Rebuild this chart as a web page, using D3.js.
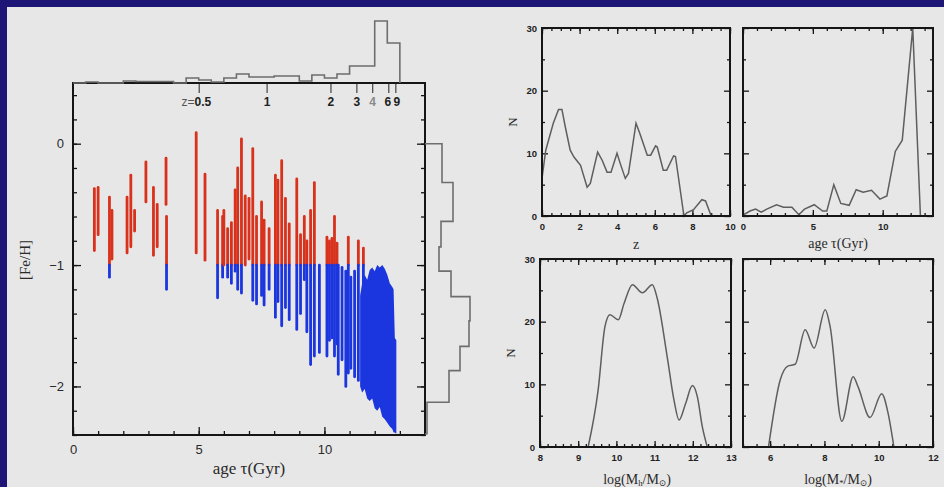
<!DOCTYPE html>
<html><head><meta charset="utf-8">
<script src="https://cdn.jsdelivr.net/npm/d3@7"></script>
<style>
html,body{margin:0;padding:0;background:#1d1676;}
svg{display:block;}
.tl{font-family:"Liberation Sans",Arial,sans-serif;}
.serif{font-family:"Liberation Serif","DejaVu Serif",serif;}
</style></head><body>
<svg id="chart" width="944" height="487"></svg>
<script>
// ---- [Fe/H] vs age: vertical streaks (one per galaxy), top and bottom of each streak ----
const streakAge    = [0.85, 1.0, 1.45, 1.55, 2.15, 2.3, 2.45, 2.9, 3.2, 3.35, 3.7, 3.72, 4.9, 5.25, 5.75, 5.95, 6.0, 6.15, 6.3, 6.45, 6.55, 6.7, 6.85, 7.0, 7.15, 7.3, 7.5, 7.6, 7.8, 8.05, 8.15, 8.3, 8.45, 8.6, 8.9, 9.05, 9.2, 9.3, 9.45, 9.6, 9.8, 10.1, 10.2, 10.3, 10.4, 10.5, 10.55, 10.7, 10.85, 10.95, 11.05, 11.2, 11.35, 11.55];
const streakTop    = [-0.37, -0.36, -0.44, -0.55, -0.44, -0.26, -0.55, -0.15, -0.36, -0.5, -0.12, -0.6, 0.09, -0.25, -0.55, -0.6, -0.55, -0.7, -0.65, -0.38, -0.2, 0.04, -0.43, -0.45, -0.04, -0.6, -0.48, -0.63, -0.7, -0.26, -0.3, -0.14, -0.45, -0.66, -0.29, -0.75, -0.6, -0.8, -0.55, -0.32, -1.0, -0.77, -0.8, -0.78, -0.6, -0.82, -1.0, -1.02, -1.05, -0.77, -1.1, -1.05, -0.8, -0.86];
const streakBottom = [-0.88, -0.75, -1.1, -0.95, -0.9, -0.85, -0.72, -0.48, -0.92, -0.85, -0.5, -1.2, -0.9, -0.96, -1.27, -1.1, -1.0, -1.1, -1.15, -1.05, -1.2, -1.23, -1.0, -0.95, -1.29, -1.32, -1.25, -1.33, -1.2, -1.43, -1.3, -1.5, -1.35, -1.45, -1.53, -1.4, -1.12, -1.55, -1.82, -1.75, -1.72, -1.75, -1.62, -1.6, -1.75, -1.65, -1.9, -1.78, -2.0, -1.89, -1.85, -1.92, -1.95, -1.3];
const fehSplit = -1;

// dense population of the oldest stars
const clusterAge    = [11.42, 11.5, 11.6, 11.7, 11.8, 11.9, 12.0, 12.1, 12.2, 12.3, 12.4, 12.5, 12.6, 12.7, 12.75, 12.8, 12.86];
const clusterTop    = [-1.25, -1.15, -1.08, -1.12, -1.04, -1.02, -1.05, -1.0, -1.02, -1.0, -1.03, -1.08, -1.15, -1.18, -1.2, -1.6, -1.62];
const clusterBottom = [-2.0, -2.05, -2.02, -2.1, -2.12, -2.1, -2.18, -2.2, -2.17, -2.25, -2.27, -2.3, -2.33, -2.35, -2.38, -2.38, -2.39];

// redshift axis along the top (age at each redshift)
const zTickAge   = [5.0, 7.7, 10.24, 11.27, 11.9, 12.54, 12.82];
const zTickLabel = ["z=0.5", "1", "2", "3", "4", "6", "9"];

// marginal histogram of ages (bins of 0.5 Gyr)
const ageHistEdges  = [0,0.5,1,1.5,2,2.5,3,3.5,4,4.5,5,5.5,6,6.5,7,7.5,8,8.5,9,9.5,10,10.5,11,11.5,12,12.5,13];
const ageHistCounts = [0,1,0,0,2,1.5,1.5,1.5,0,5,3,1,5,9,6,6,7,7,2,8,5,9,17,17,62,40];

// marginal histogram of [Fe/H]
const fehHistEdges  = [0, -0.32, -0.64, -0.85, -1.05, -1.26, -1.46, -1.67, -1.87, -2.13, -2.39];
const fehHistCounts = [17, 28, 16, 14, 26, 45, 44, 35, 24, 2];

// distribution panels
const zVals   = [0,0.2,0.6,0.88,1.06,1.24,1.5,1.7,2.05,2.4,2.57,2.96,3.2,3.46,3.67,3.99,4.16,4.43,4.6,5.0,5.2,5.6,5.78,6.04,6.13,6.45,6.63,7.0,7.1,7.55,7.7,8.06,8.5,8.7,9.0];
const zN      = [6,10.5,14.8,17,17,14.2,10.5,9.4,8.1,4.6,5.2,10.2,8.9,7,7,10,8.4,6,6.8,14.8,13.2,9.7,9.7,11.2,11,7.3,7.3,9.6,9.5,0,0.5,1,2.6,2.4,0];
const ageVals = [0.05,0.5,0.9,1.3,1.7,2.4,2.9,3.5,4.0,4.4,5.1,5.7,6.0,6.5,7.0,7.6,8.1,8.6,9.2,9.8,10.3,10.9,11.4,12.15,12.7];
const ageN    = [0.2,0.8,1.1,0.6,1.1,1.8,1.4,1.4,0.2,1.1,1.8,0.8,0.8,5.0,2.0,1.7,4.2,3.8,4.1,2.7,3.2,10.3,12.1,30,0];
const mhVals  = [9.26,9.52,9.7,9.83,10.05,10.2,10.42,10.68,10.94,11.07,11.33,11.51,11.64,11.81,11.99,12.12,12.25,12.38];
const mhN     = [0,9,19.2,21.1,20.3,22.9,25.9,24.6,25.9,23.7,14.4,7.4,4.3,6.9,9.8,8,3.2,0];
const msVals  = [5.94,6.37,6.65,6.92,7.29,7.62,8.03,8.21,8.64,9.06,9.24,9.68,10.11,10.35,10.56];
const msN     = [0,10.7,12.9,13.2,18.7,15.8,21.9,19.2,4.1,11.2,9.6,4.7,8.5,5.3,0];

const RED = "#d8311c", BLUE = "#1c36df", INK = "#151515", HIST = "#6e6e6e";

const svg = d3.select("#chart");
svg.append("rect").attr("width", 944).attr("height", 487).attr("fill", "#1d1676");
svg.append("rect").attr("x", 7).attr("y", 7).attr("width", 937).attr("height", 480).attr("fill", "#e7e7e7");

// ---------------- main scatter ----------------
const x = d3.scaleLinear().domain([0, 14]).range([73, 425]);
const y = d3.scaleLinear().domain([-2.4, 0.5]).range([435, 83]);

const segs = [];
streakAge.forEach((a, i) => {
  const t = streakTop[i], b = streakBottom[i];
  if (t > fehSplit) segs.push({a, t, b: Math.max(b, fehSplit), c: RED});
  if (b < fehSplit) segs.push({a, t: Math.min(t, fehSplit), b, c: BLUE});
});
const scat = svg.append("g");
scat.selectAll("line.streak").data(segs).join("line")
  .attr("class", "streak")
  .attr("x1", d => x(d.a)).attr("x2", d => x(d.a))
  .attr("y1", d => y(d.t)).attr("y2", d => y(d.b))
  .attr("stroke", d => d.c).attr("stroke-width", 2.8)
  .attr("stroke-linecap", "round");

const cluster = clusterAge.map((a, i) => ({a, t: clusterTop[i], b: clusterBottom[i]}));
scat.append("path").datum(cluster)
  .attr("d", d3.area().x(d => x(d.a)).y0(d => y(d.b)).y1(d => y(d.t)))
  .attr("fill", BLUE);

// frame + ticks
function ticks(g, axis) {
  g.call(axis);
  g.select(".domain").remove();
  g.selectAll(".tick line").attr("stroke", INK).attr("stroke-width", 1.3);
}
const fine = v => Math.round(v * 1000) / 1000;
const yMinor = d3.range(-12, 3).map(k => fine(k * 0.2));
const xMinor = d3.range(0, 15);

ticks(svg.append("g").attr("transform", "translate(0,435)"),
  d3.axisBottom(x).tickValues(xMinor).tickSize(-4).tickFormat(""));
const xb = svg.append("g").attr("transform", "translate(0,435)").attr("class", "tl");
ticks(xb, d3.axisBottom(x).tickValues([0, 5, 10]).tickSize(-8).tickPadding(10).tickFormat(d3.format("d")));
xb.selectAll("text").attr("font-size", 13).attr("fill", "#2a2a2a");

ticks(svg.append("g").attr("transform", "translate(73,0)"),
  d3.axisLeft(y).tickValues(yMinor).tickSize(-4).tickFormat(""));
const yl = svg.append("g").attr("transform", "translate(73,0)").attr("class", "tl");
ticks(yl, d3.axisLeft(y).tickValues([0, -1, -2]).tickSize(-8).tickPadding(9).tickFormat(d3.format("d")));
yl.selectAll("text").attr("font-size", 13).attr("fill", "#2a2a2a");

ticks(svg.append("g").attr("transform", "translate(425,0)"),
  d3.axisRight(y).tickValues(yMinor).tickSize(-4).tickFormat(""));
ticks(svg.append("g").attr("transform", "translate(425,0)"),
  d3.axisRight(y).tickValues([0, -1, -2]).tickSize(-8).tickFormat(""));

const zt = svg.append("g").attr("transform", "translate(0,83)").attr("class", "tl");
ticks(zt, d3.axisBottom(x).tickValues(zTickAge).tickSize(10).tickPadding(4)
  .tickFormat((d, i) => zTickLabel[i]));
zt.selectAll(".tick line").attr("stroke", "#444").attr("stroke-width", 1.2);
zt.selectAll("text").attr("font-size", 12).attr("font-weight", "bold").attr("fill", "#222")
  .each(function(d, i) {
    const t = d3.select(this);
    if (i === 0) { t.attr("text-anchor", "end").attr("x", 12); t.text(null);
      t.append("tspan").attr("font-weight", "normal").attr("fill", "#555").text("z=");
      t.append("tspan").text("0.5"); }
    if (i === 4) t.attr("fill", "#8a8a8a");
    if (i === 5) t.attr("x", -1);
    if (i === 6) t.attr("x", 1);
  });

svg.append("rect").attr("x", x(0)).attr("y", y(0.5))
  .attr("width", x(14) - x(0)).attr("height", y(-2.4) - y(0.5))
  .attr("fill", "none").attr("stroke", INK).attr("stroke-width", 2);

// marginal histograms
const hy = d3.scaleLinear().domain([0, 62]).range([83, 21]);
const topPts = [[ageHistEdges[0], 0]];
ageHistCounts.forEach((c, i) => { topPts.push([ageHistEdges[i], c], [ageHistEdges[i + 1], c]); });
topPts.push([ageHistEdges[ageHistEdges.length - 1], 0]);
svg.append("path").datum(topPts)
  .attr("d", d3.line().x(d => x(d[0])).y(d => hy(d[1])))
  .attr("fill", "none").attr("stroke", HIST).attr("stroke-width", 1.6);

const hx = d3.scaleLinear().domain([0, 45]).range([425, 470]);
const sidePts = [[0, fehHistEdges[0]]];
fehHistCounts.forEach((c, i) => { sidePts.push([c, fehHistEdges[i]], [c, fehHistEdges[i + 1]]); });
sidePts.push([0, fehHistEdges[fehHistEdges.length - 1]]);
svg.append("path").datum(sidePts)
  .attr("d", d3.line().x(d => hx(d[0])).y(d => y(d[1])))
  .attr("fill", "none").attr("stroke", HIST).attr("stroke-width", 1.6);

// axis titles
svg.append("text").attr("class", "serif").attr("x", 249).attr("y", 474)
  .attr("text-anchor", "middle").attr("font-size", 17).attr("fill", "#2a2a2a")
  .text("age τ(Gyr)");
svg.append("text").attr("class", "serif")
  .attr("transform", "translate(30,260) rotate(-90)")
  .attr("text-anchor", "middle").attr("font-size", 15).attr("fill", "#2a2a2a")
  .text("[Fe/H]");

// ---------------- distribution panels ----------------
function panel(o) {
  const px = d3.scaleLinear().domain(o.xd).range([o.x0, o.x1]);
  const py = d3.scaleLinear().domain([0, 30]).range([o.y1, o.y0]);
  const g = svg.append("g");
  const yMaj = [0, 10, 20, 30], yMin = [5, 15, 25];
  const mk = (tr, axis) => ticks(g.append("g").attr("transform", tr), axis);
  mk(`translate(0,${o.y1})`, d3.axisBottom(px).tickValues(o.minor).tickSize(-3).tickFormat(""));
  mk(`translate(0,${o.y0})`, d3.axisTop(px).tickValues(o.minor).tickSize(-3).tickFormat(""));
  mk(`translate(0,${o.y0})`, d3.axisTop(px).tickValues(o.major).tickSize(-6).tickFormat(""));
  mk(`translate(${o.x0},0)`, d3.axisLeft(py).tickValues(yMin).tickSize(-3).tickFormat(""));
  mk(`translate(${o.x1},0)`, d3.axisRight(py).tickValues(yMin).tickSize(-3).tickFormat(""));
  mk(`translate(${o.x1},0)`, d3.axisRight(py).tickValues(yMaj).tickSize(-6).tickFormat(""));
  const xa = g.append("g").attr("transform", `translate(0,${o.y1})`).attr("class", "tl");
  ticks(xa, d3.axisBottom(px).tickValues(o.major).tickSize(-6).tickPadding(7).tickFormat(d3.format("d")));
  xa.selectAll("text").attr("font-size", 9.5).attr("font-weight", "bold").attr("fill", "#222");
  const ya = g.append("g").attr("transform", `translate(${o.x0},0)`).attr("class", "tl");
  ticks(ya, d3.axisLeft(py).tickValues(yMaj).tickSize(-6).tickPadding(5)
    .tickFormat(o.ylabels ? d3.format("d") : ""));
  ya.selectAll("text").attr("font-size", 9.5).attr("font-weight", "bold").attr("fill", "#222");
  const pts = o.xs.map((v, i) => [v, o.ns[i]]);
  g.append("path").datum(pts)
    .attr("d", d3.line().x(d => px(d[0])).y(d => py(d[1])).curve(o.curve))
    .attr("fill", "none").attr("stroke", "#5e5e5e").attr("stroke-width", 1.5);
  g.append("rect").attr("x", o.x0).attr("y", o.y0).attr("width", o.x1 - o.x0).attr("height", o.y1 - o.y0)
    .attr("fill", "none").attr("stroke", INK).attr("stroke-width", 2);
  if (o.ylabels) {
    g.append("text").attr("class", "serif")
      .attr("transform", `translate(${o.x0 - 25},${(o.y0 + o.y1) / 2}) rotate(-90)`)
      .attr("text-anchor", "middle").attr("font-size", 13).attr("fill", "#2a2a2a").text("N");
  }
  return g;
}

panel({x0: 542, x1: 730, y0: 28, y1: 216, xd: [0, 10], major: [0, 2, 4, 6, 8, 10],
  minor: d3.range(0, 21).map(k => k * 0.5), xs: zVals, ns: zN, ylabels: true, curve: d3.curveLinear});
panel({x0: 743, x1: 933, y0: 28, y1: 216, xd: [0, 13.6], major: [0, 5, 10],
  minor: d3.range(0, 14), xs: ageVals, ns: ageN, ylabels: false, curve: d3.curveLinear});
panel({x0: 540, x1: 731, y0: 259, y1: 447, xd: [8, 13], major: [8, 9, 10, 11, 12, 13],
  minor: d3.range(0, 26).map(k => fine(8 + k * 0.2)), xs: mhVals, ns: mhN, ylabels: true, curve: d3.curveMonotoneX});
panel({x0: 743, x1: 933, y0: 259, y1: 447, xd: [5, 12], major: [6, 8, 10, 12],
  minor: d3.range(0, 15).map(k => 5 + k * 0.5), xs: msVals, ns: msN, ylabels: false, curve: d3.curveMonotoneX});

// panel axis titles
function title(xc, yb, parts, size) {
  const t = svg.append("text").attr("class", "serif").attr("x", xc).attr("y", yb)
    .attr("text-anchor", "middle").attr("font-size", size).attr("fill", "#2a2a2a");
  parts.forEach(p => {
    const s = t.append("tspan").text(p[0]);
    if (p[1]) s.attr("font-size", size * 0.62).attr("baseline-shift", "-22%");
  });
}
title(636, 249, [["z"]], 14);
title(838, 248, [["age τ(Gyr)"]], 14);
title(637, 484, [["log(M"], ["h", true], ["/M"], ["⊙", true], [")"]], 14);
title(838, 484, [["log(M"], ["*", true], ["/M"], ["⊙", true], [")"]], 14);
</script></body></html>
